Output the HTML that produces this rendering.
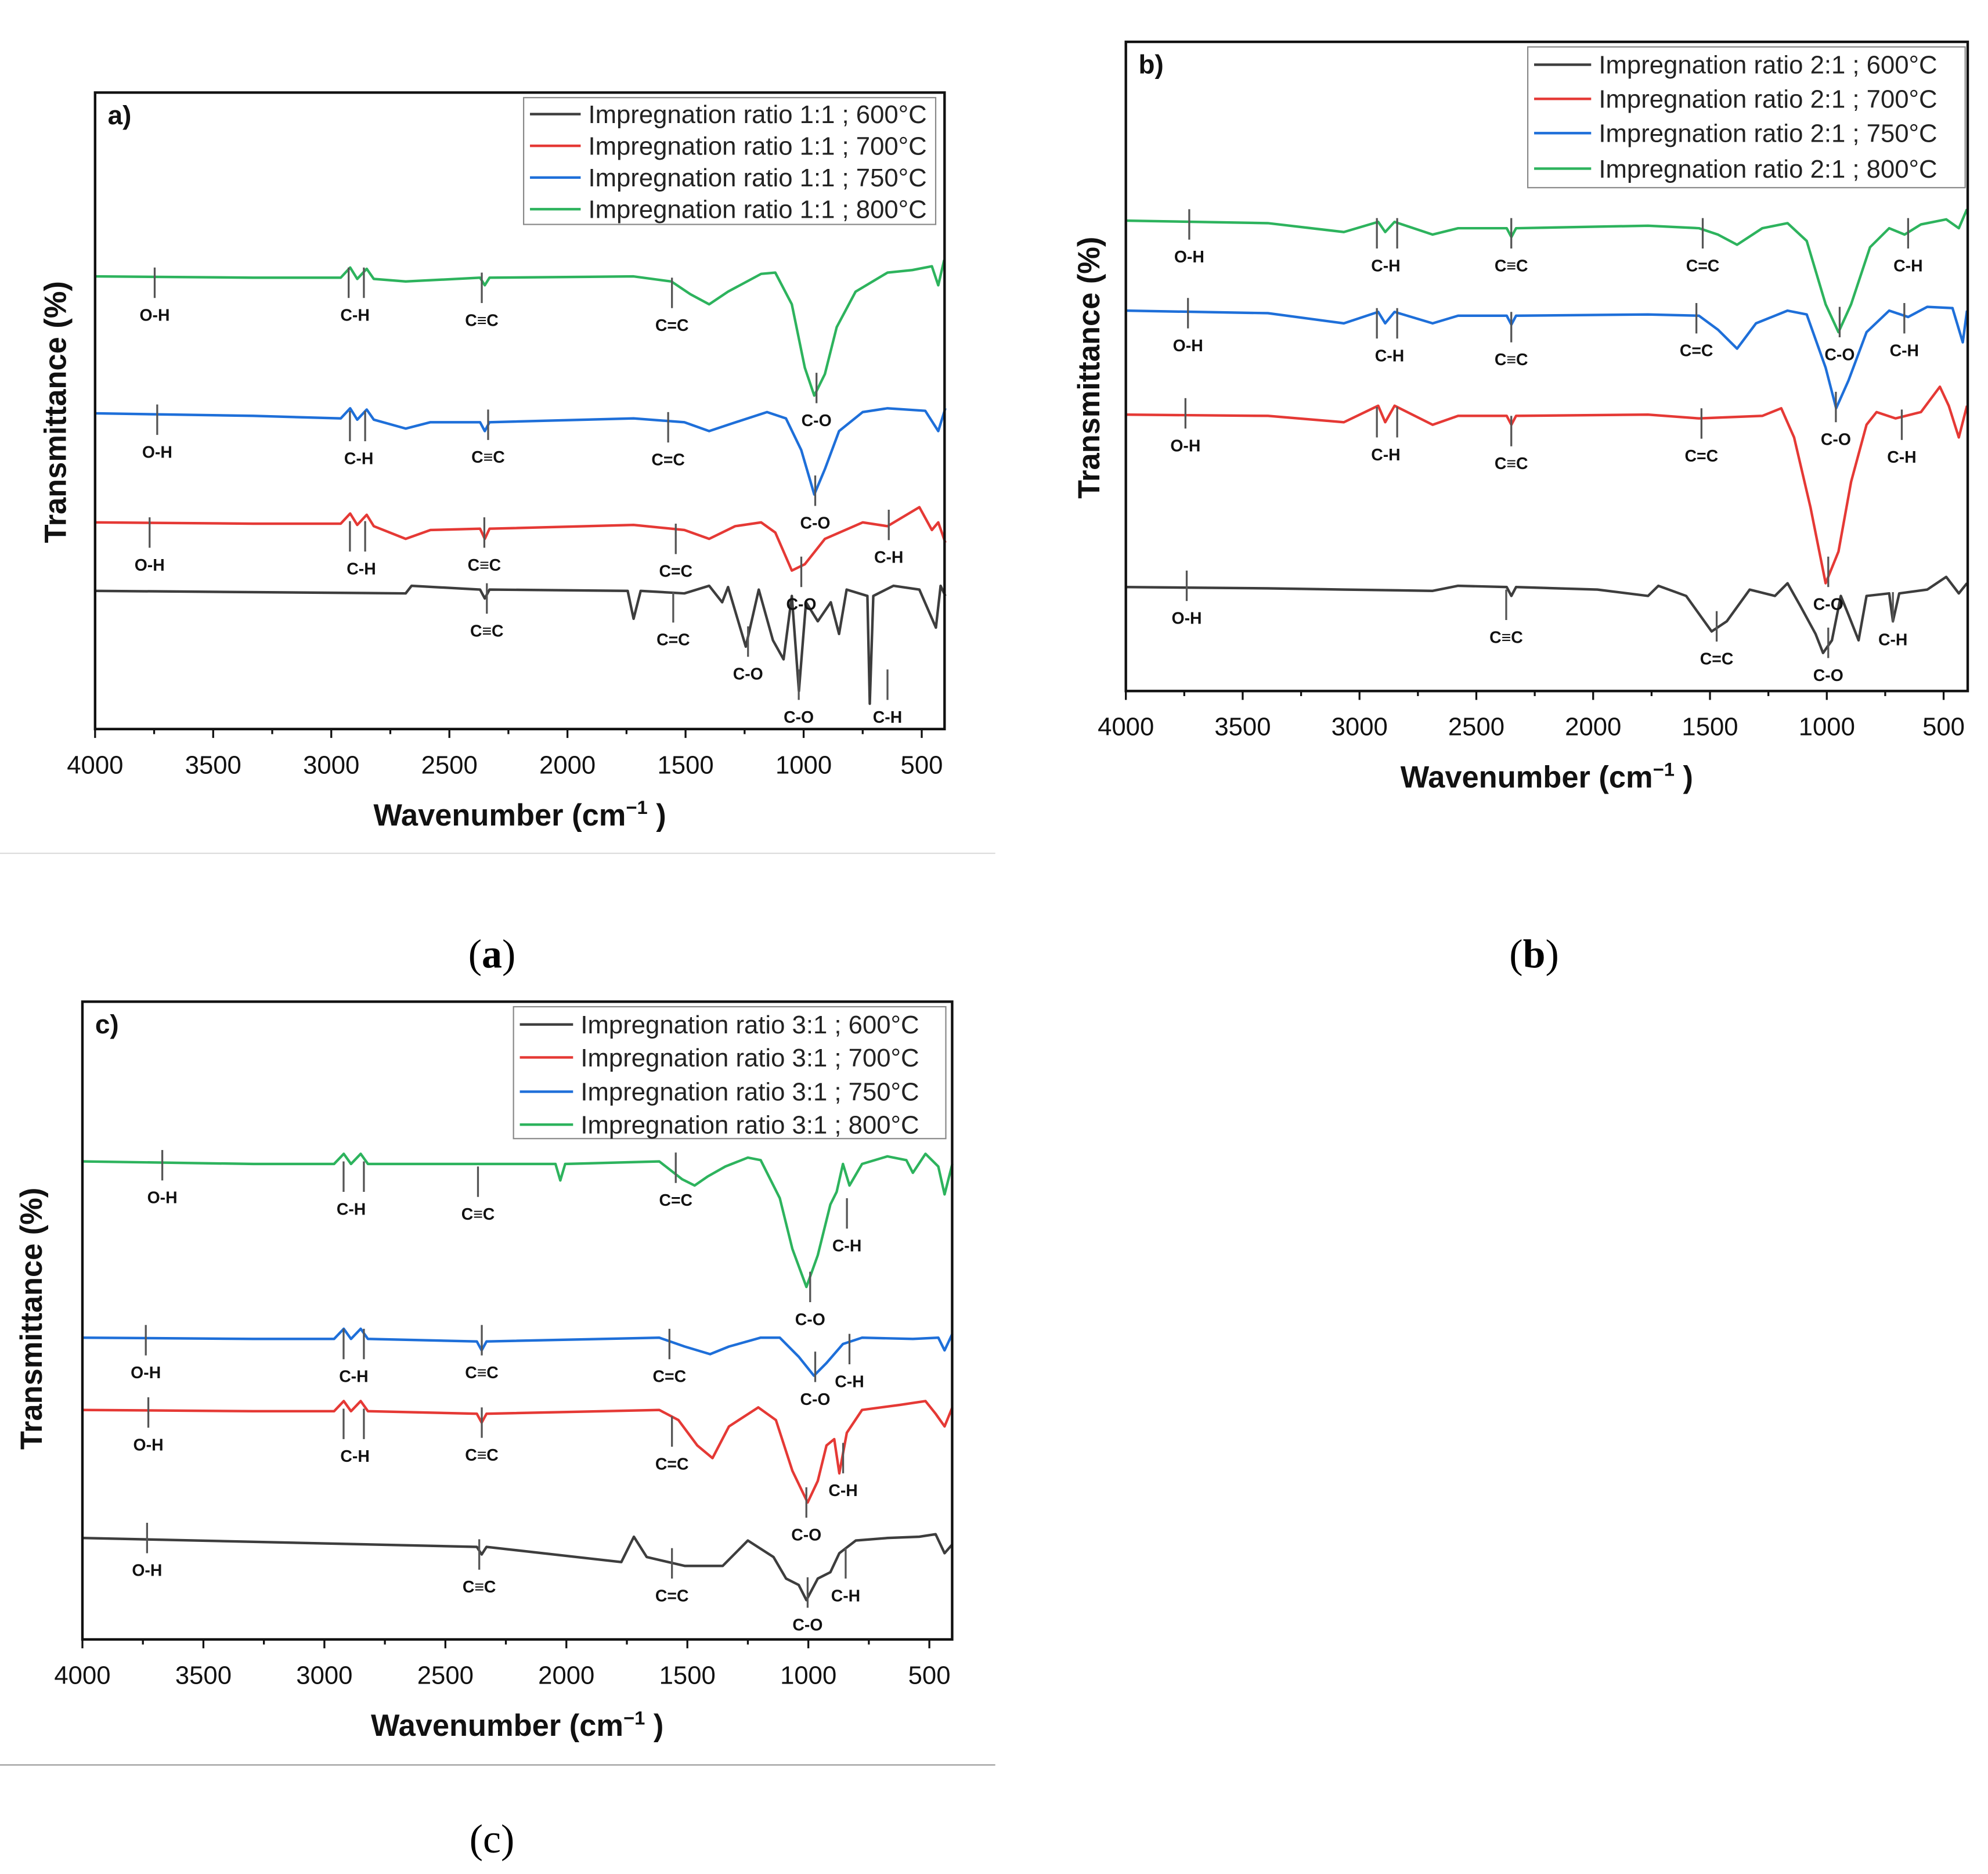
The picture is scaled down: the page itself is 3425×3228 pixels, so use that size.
<!DOCTYPE html>
<html><head><meta charset="utf-8"><title>FTIR spectra</title>
<style>
html,body{margin:0;padding:0;background:#fff;}
svg{display:block;}
text{font-family:"Liberation Sans",sans-serif;}
</style></head>
<body>
<svg id="fig" width="3425" height="3228" viewBox="0 0 1568 1478" preserveAspectRatio="none" xmlns="http://www.w3.org/2000/svg">
<rect width="1568" height="1478" fill="#fff"/>
<line x1="0" y1="673" x2="785" y2="673" stroke="#ddd" stroke-width="1"/>
<line x1="0" y1="1392" x2="785" y2="1392" stroke="#999" stroke-width="1"/>
<text x="388" y="763" font-size="32" text-anchor="middle" style="font-family:'Liberation Serif',serif">(<tspan font-weight="bold">a</tspan>)</text>
<text x="1210" y="763" font-size="32" text-anchor="middle" style="font-family:'Liberation Serif',serif">(<tspan font-weight="bold">b</tspan>)</text>
<text x="388" y="1461" font-size="32" text-anchor="middle" style="font-family:'Liberation Serif',serif">(c)</text>
</svg>
<script>
// ---------- data (wavenumber in cm-1, transmittance in arbitrary offset units) ----------
const xTicks = [4000,3500,3000,2500,2000,1500,1000,500];
const seriesColors = ["#3d3d3d","#e53935","#1e6fd9","#2db35d"];
const legendA = ["Impregnation ratio 1:1 ; 600°C","Impregnation ratio 1:1 ; 700°C","Impregnation ratio 1:1 ; 750°C","Impregnation ratio 1:1 ; 800°C"];
const legendB = ["Impregnation ratio 2:1 ; 600°C","Impregnation ratio 2:1 ; 700°C","Impregnation ratio 2:1 ; 750°C","Impregnation ratio 2:1 ; 800°C"];
const legendC = ["Impregnation ratio 3:1 ; 600°C","Impregnation ratio 3:1 ; 700°C","Impregnation ratio 3:1 ; 750°C","Impregnation ratio 3:1 ; 800°C"];

// Panel a
const aGreenWn = [4000,3330,2960,2920,2890,2850,2820,2685,2370,2350,2330,1720,1560,1480,1400,1320,1180,1120,1050,995,955,910,860,780,645,540,457,430,405];
const aGreenT  = [357,356,356,364,355,363,355,353,356,350,356,357,353,343,335,345,359,360,335,285,263,280,317,345,360,362,365,350,370];
const aBlueWn = [4000,3330,2960,2920,2890,2850,2820,2685,2580,2370,2350,2330,1720,1505,1400,1320,1155,1075,1010,955,910,850,750,645,485,430,400];
const aBlueT  = [249,247,245,253,244,252,244,237,242,242,235,242,245,242,235,240,250,245,220,185,205,235,250,253,251,235,253];
const aRedWn = [4000,3330,2960,2920,2890,2850,2820,2685,2580,2370,2350,2330,1720,1505,1400,1290,1180,1120,1050,995,910,750,645,510,457,430,400];
const aRedT  = [163,162,162,170,161,169,160,150,157,158,150,158,161,157,150,160,163,155,125,130,150,163,160,175,157,163,147];
const aBlackWn = [4000,2685,2660,2370,2350,2330,1745,1720,1690,1505,1400,1345,1320,1245,1190,1130,1085,1050,1020,990,940,885,850,818,730,720,705,620,510,440,420,400];
const aBlackT  = [109,107,113,110,103,110,109,87,109,107,113,100,112,65,110,70,55,105,30,100,85,100,75,110,105,20,105,113,110,80,113,105];

// Panel b
const bGreenWn = [4000,3392,3067,2920,2890,2850,2687,2578,2370,2350,2330,1765,1547,1466,1384,1276,1168,1086,1005,950,896,815,733,667,597,489,435,400];
const bGreenT  = [371,369,362,370,362,370,360,365,365,358,365,367,365,360,352,365,369,355,305,283,305,350,365,360,368,372,365,380];
const bBlueWn = [4000,3392,3067,2920,2890,2850,2687,2578,2370,2350,2330,1765,1547,1466,1384,1303,1168,1086,1005,960,907,830,733,652,570,462,418,400];
const bBlueT  = [300,298,290,299,290,299,290,296,296,289,296,297,296,285,270,290,300,297,255,223,245,283,300,295,303,302,275,300];
const bRedWn = [4000,3392,3067,2920,2890,2850,2687,2578,2370,2350,2330,1765,1547,1276,1195,1140,1070,1005,950,896,830,787,706,597,516,478,435,400];
const bRedT  = [218,217,212,225,212,225,210,217,217,210,217,218,215,217,223,200,145,85,110,165,210,220,215,220,240,225,200,225];
const bBlackWn = [4000,3392,3067,2687,2578,2370,2350,2330,1982,1765,1721,1602,1493,1428,1330,1222,1168,1113,1048,1016,978,940,907,864,830,733,717,690,570,489,435,400];
const bBlackT  = [82,81,80,79,83,82,75,82,80,75,83,75,47,55,80,75,85,67,45,30,40,75,60,40,75,77,55,77,80,90,77,85];

// Panel c
const cGreenWn = [4000,3293,2960,2920,2890,2850,2820,2350,2045,2025,2005,1616,1522,1470,1417,1343,1250,1197,1118,1066,1008,961,909,883,857,830,778,673,595,568,516,463,437,405];
const cGreenT  = [377,375,375,383,375,383,375,375,375,362,375,377,363,358,365,373,380,378,348,308,278,303,343,353,375,358,375,381,378,368,383,373,351,375];
const cBlueWn = [4000,3293,2960,2920,2890,2850,2820,2370,2350,2330,1616,1511,1406,1328,1197,1118,1040,977,925,857,778,568,463,437,405];
const cBlueT  = [238,237,237,245,237,245,237,235,228,235,238,231,225,231,238,238,223,208,218,233,238,237,238,228,241];
const cRedWn = [4000,3293,2960,2920,2890,2850,2820,2370,2350,2330,1616,1537,1459,1396,1328,1207,1134,1066,1003,961,925,893,872,841,778,621,516,474,437,405];
const cRedT  = [181,180,180,188,180,188,180,178,171,178,181,173,153,143,168,183,173,133,108,125,153,158,131,163,181,185,188,178,168,183];
const cBlackWn = [4000,3293,2370,2350,2330,1773,1721,1668,1511,1354,1250,1144,1092,1040,1008,961,909,872,804,673,542,474,437,405];
const cBlackT  = [80,77,73,67,73,61,81,65,58,58,78,65,48,43,31,48,53,68,78,80,81,83,68,75];

// ---------- rendering ----------
const NS = "http://www.w3.org/2000/svg";
const svg = document.getElementById("fig");
function mk(tag, attrs, parent){
  const e = document.createElementNS(NS, tag);
  for (const k in attrs) e.setAttribute(k, attrs[k]);
  (parent||svg).appendChild(e);
  return e;
}

function drawPanel(p){
  const g = mk("g", {});
  
  
  const xs = wn => p.x4000 + (4000 - wn) * (p.x500 - p.x4000) / 3500;
  const ys = t => p.bottom - t;
  // series
  const names = ["600c","700c","750c","800c"];
  p.series.forEach((s, i) => {
    let d = "";
    s.wn.forEach((w, j) => { d += (j ? "L" : "M") + xs(w).toFixed(2) + "," + ys(s.t[j]).toFixed(2); });
    const path = mk("path", {d: d, fill: "none", stroke: seriesColors[i], "stroke-width": 2, "stroke-linejoin": "round"}, g);
    
    
  });
  // annotations
  p.ann.forEach(a => {
    const [label, lx, ly, ticks] = a;
    (ticks || [lx]).forEach(tx => {
      mk("line", {x1: tx, y1: ly - 38, x2: tx, y2: ly - 14, stroke: "#555", "stroke-width": 1.5}, g);
    });
    const t = mk("text", {x: lx, y: ly + 4, "font-size": 13, "font-weight": "bold", "text-anchor": "middle", fill: "#111"}, g);
    t.textContent = label;
    
    
  });
  // frame
  const fr = mk("rect", {x: p.left, y: p.top, width: p.right - p.left, height: p.bottom - p.top, fill: "none", stroke: "#111", "stroke-width": 2}, g);
  
  
  // ticks
  for (let w = 4000; w >= 400; w -= 250) {
    const x = xs(w);
    if (x > p.right + 0.5) continue;
    const major = (w % 500 === 0);
    mk("line", {x1: x, y1: p.bottom, x2: x, y2: p.bottom + (major ? 7 : 4), stroke: "#111", "stroke-width": 1.5}, g);
  }
  xTicks.forEach(w => {
    const t = mk("text", {x: xs(w), y: p.bottom + 35, "font-size": 20, "text-anchor": "middle", fill: "#111"}, g);
    t.textContent = w;
    
    
  });
  const xt = mk("text", {x: p.xTitleX, y: p.bottom + 76, "font-size": 24, "font-weight": "bold", "text-anchor": "middle", fill: "#111"}, g);
  xt.innerHTML = 'Wavenumber (cm<tspan dy="-9" font-size="15">−1</tspan><tspan dy="9"> )</tspan>';
  
  
  const yt = mk("text", {x: 0, y: 0, "font-size": 24, "font-weight": "bold", "text-anchor": "middle", fill: "#111", transform: "translate(" + p.yTitleX + "," + p.yTitleY + ") rotate(-90)"}, g);
  yt.textContent = "Transmittance (%)";
  
  
  const pl = mk("text", {x: p.left + 10, y: p.top + 25, "font-size": 21, "font-weight": "bold", fill: "#111"}, g);
  pl.textContent = p.id + ")";
  
  
  // legend
  const L = p.legend;
  const lg = mk("g", {}, g);
  
  
  mk("rect", {x: L.x, y: L.y, width: L.w, height: L.h, fill: "#fff", stroke: "#888", "stroke-width": 1}, lg);
  L.labels.forEach((lab, i) => {
    const yy = L.ys[i];
    mk("line", {x1: L.x + 5, y1: yy, x2: L.x + L.lineW, y2: yy, stroke: seriesColors[i], "stroke-width": 2}, lg);
    const t = mk("text", {x: L.x + L.lineW + 6, y: yy + 7, "font-size": 20, fill: "#222"}, lg);
    t.textContent = lab;
    
    
  });
}

const CH = ["C-H"];
drawPanel({
  id: "a", x4000: 75, x500: 727, left: 75, right: 745, top: 73, bottom: 575,
  xTitleX: 410, yTitleX: 52, yTitleY: 325,
  series: [{wn:aBlackWn,t:aBlackT},{wn:aRedWn,t:aRedT},{wn:aBlueWn,t:aBlueT},{wn:aGreenWn,t:aGreenT}],
  legend: {x: 413, y: 77, w: 325, h: 100, lineW: 45, ys: [90,115,140,165], labels: legendA},
  ann: [["O-H",122,249],["C-H",280,249,[275,287]],["C≡C",380,253],["C=C",530,257],["C-O",644,332],
        ["O-H",124,357],["C-H",283,362,[276,288]],["C≡C",385,361],["C=C",527,363],["C-O",643,413],
        ["O-H",118,446],["C-H",285,449,[276,288]],["C≡C",382,446],["C=C",533,451],["C-O",632,477],["C-H",701,440],
        ["C≡C",384,498],["C=C",531,505],["C-O",590,532],["C-O",630,566],["C-H",700,566]]
});
drawPanel({
  id: "b", x4000: 888, x500: 1533, left: 888, right: 1552, top: 33, bottom: 545,
  xTitleX: 1220, yTitleX: 867, yTitleY: 290,
  series: [{wn:bBlackWn,t:bBlackT},{wn:bRedWn,t:bRedT},{wn:bBlueWn,t:bBlueT},{wn:bGreenWn,t:bGreenT}],
  legend: {x: 1205, y: 37, w: 345, h: 111, lineW: 50, ys: [51,78,105,133], labels: legendB},
  ann: [["O-H",938,203],["C-H",1093,210,[1086,1102]],["C≡C",1192,210],["C=C",1343,210],["C-H",1505,210],
        ["O-H",937,273],["C-H",1096,281,[1086,1102]],["C≡C",1192,284],["C=C",1338,277],["C-O",1451,280],["C-H",1502,277],
        ["O-H",935,352],["C-H",1093,359,[1086,1102]],["C≡C",1192,366],["C=C",1342,360],["C-O",1448,347],["C-H",1500,361],
        ["O-H",936,488],["C≡C",1188,503],["C=C",1354,520],["C-O",1442,477],["C-O",1442,533],["C-H",1493,505]]
});
drawPanel({
  id: "c", x4000: 65, x500: 733, left: 65, right: 751, top: 790, bottom: 1293,
  xTitleX: 408, yTitleX: 33, yTitleY: 1040,
  series: [{wn:cBlackWn,t:cBlackT},{wn:cRedWn,t:cRedT},{wn:cBlueWn,t:cBlueT},{wn:cGreenWn,t:cGreenT}],
  legend: {x: 405, y: 794, w: 341, h: 104, lineW: 47, ys: [808,834,861,887], labels: legendC},
  ann: [["O-H",128,945],["C-H",277,954,[271,287]],["C≡C",377,958],["C=C",533,947],["C-O",639,1041],["C-H",668,983],
        ["O-H",115,1083],["C-H",279,1086,[271,287]],["C≡C",380,1083],["C=C",528,1086],["C-O",643,1104],["C-H",670,1090],
        ["O-H",117,1140],["C-H",280,1149,[271,287]],["C≡C",380,1148],["C=C",530,1155],["C-O",636,1211],["C-H",665,1176],
        ["O-H",116,1239],["C≡C",378,1252],["C=C",530,1259],["C-O",637,1282],["C-H",667,1259]]
});
</script>
</body></html>
